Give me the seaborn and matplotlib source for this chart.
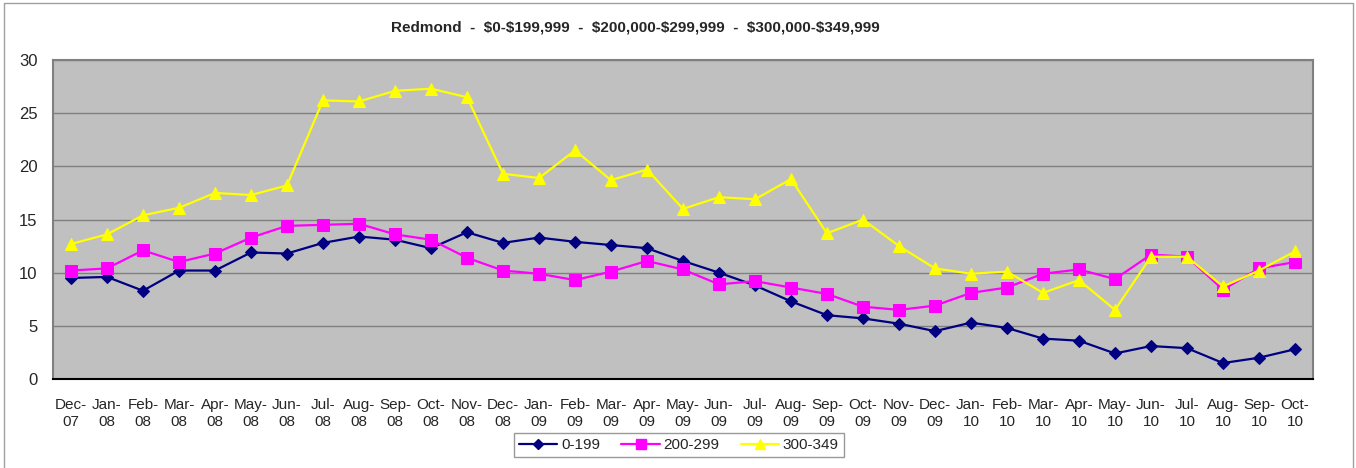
import pandas as pd
import matplotlib
matplotlib.use("Agg")
import matplotlib.pyplot as plt
import seaborn as sns
from matplotlib.lines import Line2D

months = ["Dec-\n07", "Jan-\n08", "Feb-\n08", "Mar-\n08", "Apr-\n08", "May-\n08", "Jun-\n08",
          "Jul-\n08", "Aug-\n08", "Sep-\n08", "Oct-\n08", "Nov-\n08", "Dec-\n08",
          "Jan-\n09", "Feb-\n09", "Mar-\n09", "Apr-\n09", "May-\n09", "Jun-\n09",
          "Jul-\n09", "Aug-\n09", "Sep-\n09", "Oct-\n09", "Nov-\n09", "Dec-\n09",
          "Jan-\n10", "Feb-\n10", "Mar-\n10", "Apr-\n10", "May-\n10", "Jun-\n10",
          "Jul-\n10", "Aug-\n10", "Sep-\n10", "Oct-\n10"]

low = [9.5, 9.6, 8.3, 10.2, 10.2, 11.9, 11.8, 12.8, 13.4, 13.1, 12.3, 13.8, 12.8,
       13.3, 12.9, 12.6, 12.3, 11.1, 10.0, 8.8, 7.3, 6.0, 5.7, 5.2, 4.5,
       5.3, 4.8, 3.8, 3.6, 2.4, 3.1, 2.9, 1.5, 2.0, 2.8]
mid = [10.2, 10.4, 12.1, 11.0, 11.8, 13.3, 14.4, 14.5, 14.6, 13.6, 13.1, 11.4, 10.2,
       9.9, 9.3, 10.1, 11.1, 10.3, 8.9, 9.2, 8.6, 8.0, 6.8, 6.5, 6.9,
       8.1, 8.6, 9.9, 10.3, 9.4, 11.7, 11.5, 8.4, 10.4, 11.0]
high = [12.7, 13.6, 15.4, 16.1, 17.5, 17.3, 18.2, 26.2, 26.1, 27.1, 27.3, 26.5, 19.3,
        18.9, 21.5, 18.7, 19.7, 16.0, 17.1, 16.9, 18.8, 13.7, 15.0, 12.5, 10.4,
        9.9, 10.1, 8.1, 9.3, 6.5, 11.5, 11.5, 8.7, 10.2, 12.0]

series_names = ["0-199", "200-299", "300-349"]
colors = ["#000080", "#FF00FF", "#FFFF00"]
markers = ["D", "s", "^"]
msizes = [6, 8, 8]

df = pd.DataFrame({"month": months, "0-199": low, "200-299": mid, "300-349": high})
df["pos"] = range(len(months))
long_df = df.melt(id_vars=["month", "pos"], var_name="range", value_name="value")

sns.set_style("white")
plt.rcParams["font.family"] = ["Liberation Sans", "DejaVu Sans"]

fig = plt.figure(figsize=(13.56, 4.68), dpi=100)
ax = fig.add_axes([53 / 1356, 1 - 379 / 468, 1260 / 1356, 319 / 468])
ax.set_facecolor("#C0C0C0")

for name, c, m, ms in zip(series_names, colors, markers, msizes):
    sub = long_df[long_df["range"] == name]
    sns.lineplot(data=sub, x="pos", y="value", ax=ax, color=c, marker=m,
                 markersize=ms, markeredgecolor=c, linewidth=1.6, zorder=3)

ax.set_xlim(-0.5, len(months) - 0.5)
ax.set_ylim(0, 30)
ax.set_yticks(range(0, 31, 5))
ax.set_xticks(range(len(months)))
ax.set_xticklabels(months, fontsize=11, linespacing=1.2)
ax.tick_params(axis="y", labelsize=12, length=0, pad=11)
ax.tick_params(axis="x", length=0, pad=14)
ax.set_xlabel("")
ax.set_ylabel("")
ax.grid(axis="y", color="#808080", linewidth=1)
ax.set_axisbelow(True)
for side in ["top", "right", "left"]:
    ax.spines[side].set_color("#808080")
    ax.spines[side].set_linewidth(1.5)
ax.spines["bottom"].set_color("black")
ax.spines["bottom"].set_linewidth(1.5)

fig.text(635 / 1356, 1 - 28 / 468,
         r"Redmond  -  \$0-\$199,999  -  \$200,000-\$299,999  -  \$300,000-\$349,999",
         ha="center", va="center", fontsize=11, fontweight="bold")

handles = [Line2D([], [], color=c, marker=m, markersize=ms - 1, linewidth=1.6,
                  markeredgecolor=c) for c, m, ms in zip(colors, markers, msizes)]
leg = fig.legend(handles, series_names, loc="center", ncol=3,
                 bbox_to_anchor=(679 / 1356, 1 - 445 / 468), fontsize=11,
                 frameon=True, fancybox=False, edgecolor="#808080",
                 handlelength=2.5, handletextpad=0.25, columnspacing=1.4,
                 borderpad=0.35)
leg.get_frame().set_linewidth(1)

# outer chart border
fig.add_artist(Line2D([4 / 1356, 4 / 1356, 1353 / 1356, 1353 / 1356],
                      [0, 1 - 3 / 468, 1 - 3 / 468, 0],
                      transform=fig.transFigure, color="#A0A0A0", linewidth=1))

fig.savefig("out.png", dpi=100)
